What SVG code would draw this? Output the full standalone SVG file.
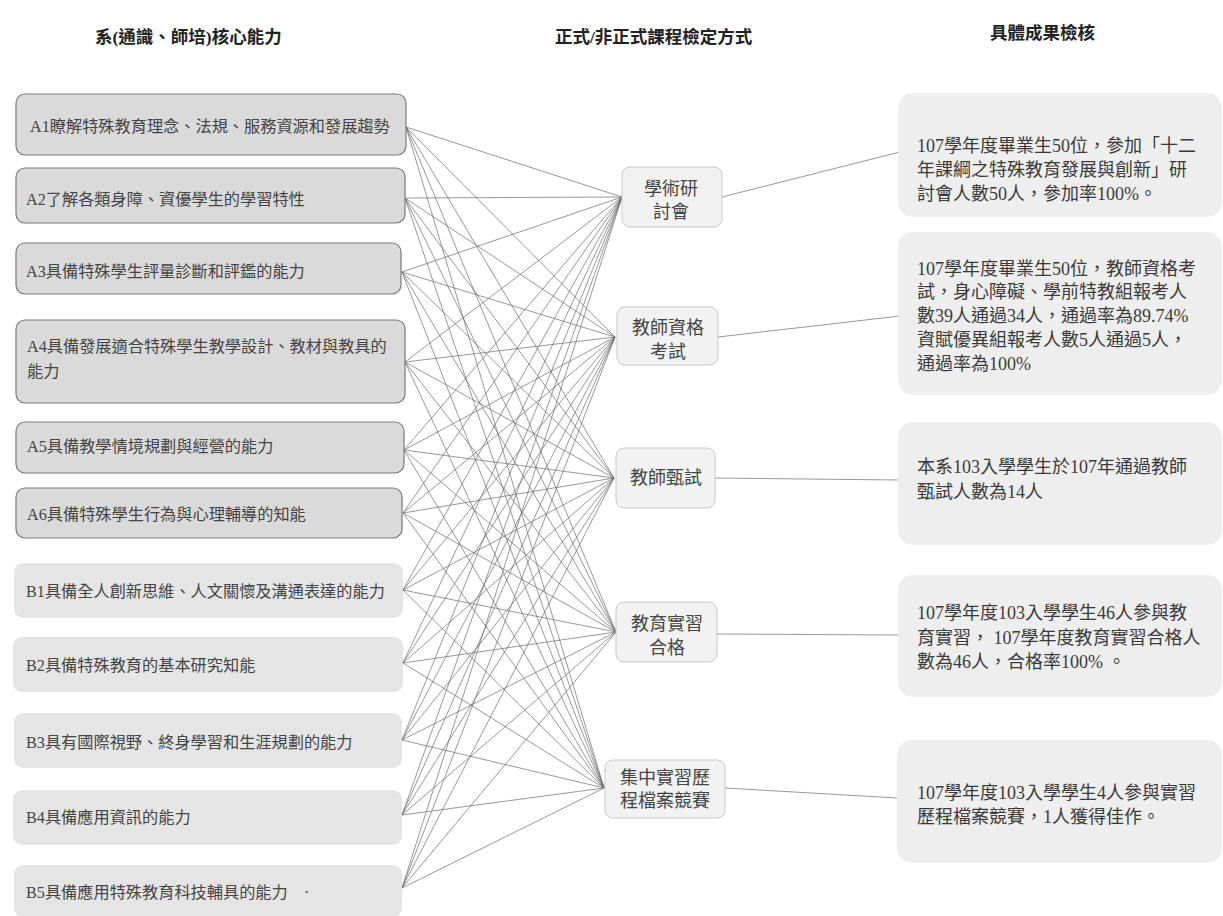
<svg xmlns="http://www.w3.org/2000/svg" width="1223" height="916" viewBox="0 0 1223 916">
<style>
text{font-family:"Liberation Serif","Noto Sans CJK TC",serif;fill:#3a3a3a;dominant-baseline:central}
.hdr{font-size:17.5px;font-weight:bold;fill:#222}
.lt{font-size:16.2px;fill:#444}
.mt{font-size:18px;text-anchor:middle;fill:#444}
.rt{font-size:18px;fill:#3a3a3a}
.boxA{fill:#dadada;stroke:#7a7a7a;stroke-width:1.2}
.boxB{fill:#e5e5e5;stroke:none}
.boxM{fill:#f2f2f2;stroke:#c9c9c9;stroke-width:1}
.boxR{fill:#eeeeee;stroke:none}
#connectors line{stroke:#666;stroke-width:0.8;stroke-opacity:0.85}
</style>
<rect width="1223" height="916" fill="#fff"/>
<g id="headers">
<text class="hdr" x="95" y="37">系(通識、師培)核心能力</text>
<text class="hdr" x="555" y="37">正式/非正式課程檢定方式</text>
<text class="hdr" x="990" y="33">具體成果檢核</text>
</g>
<g id="connectors">
<g id="fan">
<line x1="406" y1="127" x2="622" y2="197"/><line x1="406" y1="127" x2="615" y2="337"/><line x1="406" y1="127" x2="614" y2="478"/><line x1="406" y1="127" x2="616" y2="632"/><line x1="406" y1="127" x2="604" y2="788"/>
<line x1="405" y1="198" x2="622" y2="197"/><line x1="405" y1="198" x2="615" y2="337"/><line x1="405" y1="198" x2="614" y2="478"/><line x1="405" y1="198" x2="616" y2="632"/><line x1="405" y1="198" x2="604" y2="788"/>
<line x1="402" y1="272" x2="622" y2="197"/><line x1="402" y1="272" x2="615" y2="337"/><line x1="402" y1="272" x2="614" y2="478"/><line x1="402" y1="272" x2="616" y2="632"/><line x1="402" y1="272" x2="604" y2="788"/>
<line x1="405" y1="362" x2="622" y2="197"/><line x1="405" y1="362" x2="615" y2="337"/><line x1="405" y1="362" x2="614" y2="478"/><line x1="405" y1="362" x2="616" y2="632"/><line x1="405" y1="362" x2="604" y2="788"/>
<line x1="404" y1="450" x2="622" y2="197"/><line x1="404" y1="450" x2="615" y2="337"/><line x1="404" y1="450" x2="614" y2="478"/><line x1="404" y1="450" x2="616" y2="632"/><line x1="404" y1="450" x2="604" y2="788"/>
<line x1="403" y1="513" x2="622" y2="197"/><line x1="403" y1="513" x2="615" y2="337"/><line x1="403" y1="513" x2="614" y2="478"/><line x1="403" y1="513" x2="616" y2="632"/><line x1="403" y1="513" x2="604" y2="788"/>
<line x1="403" y1="590" x2="622" y2="197"/><line x1="403" y1="590" x2="615" y2="337"/><line x1="403" y1="590" x2="614" y2="478"/><line x1="403" y1="590" x2="616" y2="632"/><line x1="403" y1="590" x2="604" y2="788"/>
<line x1="403" y1="663" x2="622" y2="197"/><line x1="403" y1="663" x2="615" y2="337"/><line x1="403" y1="663" x2="614" y2="478"/><line x1="403" y1="663" x2="616" y2="632"/><line x1="403" y1="663" x2="604" y2="788"/>
<line x1="402" y1="740" x2="622" y2="197"/><line x1="402" y1="740" x2="615" y2="337"/><line x1="402" y1="740" x2="614" y2="478"/><line x1="402" y1="740" x2="616" y2="632"/><line x1="402" y1="740" x2="604" y2="788"/>
<line x1="402" y1="815" x2="622" y2="197"/><line x1="402" y1="815" x2="615" y2="337"/><line x1="402" y1="815" x2="614" y2="478"/><line x1="402" y1="815" x2="616" y2="632"/><line x1="402" y1="815" x2="604" y2="788"/>
<line x1="402" y1="888" x2="622" y2="197"/><line x1="402" y1="888" x2="615" y2="337"/><line x1="402" y1="888" x2="614" y2="478"/><line x1="402" y1="888" x2="616" y2="632"/><line x1="402" y1="888" x2="604" y2="788"/>
</g>
<line x1="722" y1="197" x2="900" y2="152"/>
<line x1="718" y1="337" x2="900" y2="316"/>
<line x1="715" y1="478" x2="898" y2="480"/>
<line x1="717" y1="634" x2="900" y2="635"/>
<line x1="725" y1="788" x2="897" y2="798"/>
</g>
<g id="A1"><rect class="boxA" x="16" y="94" width="390" height="61" rx="9"/><text class="lt" x="30" y="127">A1瞭解特殊教育理念、法規、服務資源和發展趨勢</text></g>
<g id="A2"><rect class="boxA" x="16" y="168" width="389" height="55" rx="9"/><text class="lt" x="26" y="200">A2了解各類身障、資優學生的學習特性</text></g>
<g id="A3"><rect class="boxA" x="16" y="243" width="385" height="51" rx="9"/><text class="lt" x="26" y="272">A3具備特殊學生評量診斷和評鑑的能力</text></g>
<g id="A4"><rect class="boxA" x="16" y="320" width="389" height="83" rx="9"/><text class="lt" x="27" y="347">A4具備發展適合特殊學生教學設計、教材與教具的</text><text class="lt" x="27" y="372">能力</text></g>
<g id="A5"><rect class="boxA" x="16" y="422" width="388" height="51" rx="9"/><text class="lt" x="27" y="447">A5具備教學情境規劃與經營的能力</text></g>
<g id="A6"><rect class="boxA" x="16" y="488" width="386" height="50" rx="9"/><text class="lt" x="27" y="515">A6具備特殊學生行為與心理輔導的知能</text></g>
<g id="B1"><rect class="boxB" x="14" y="563" width="389" height="55" rx="9"/><text class="lt" x="26" y="592">B1具備全人創新思維、人文關懷及溝通表達的能力</text></g>
<g id="B2"><rect class="boxB" x="13" y="637" width="390" height="55" rx="9"/><text class="lt" x="26" y="666">B2具備特殊教育的基本研究知能</text></g>
<g id="B3"><rect class="boxB" x="14" y="713" width="388" height="55" rx="9"/><text class="lt" x="26" y="743">B3具有國際視野、終身學習和生涯規劃的能力</text></g>
<g id="B4"><rect class="boxB" x="13" y="790" width="389" height="55" rx="9"/><text class="lt" x="26" y="818">B4具備應用資訊的能力</text></g>
<g id="B5"><rect class="boxB" x="14" y="865" width="388" height="52" rx="9"/><text class="lt" x="26" y="893">B5具備應用特殊教育科技輔具的能力　·</text></g>
<g id="M1"><rect class="boxM" x="622" y="167" width="100" height="60" rx="8"/><text class="mt" x="671" y="189">學術研</text><text class="mt" x="671" y="212">討會</text></g>
<g id="M2"><rect class="boxM" x="617" y="307" width="101" height="58" rx="8"/><text class="mt" x="668" y="328">教師資格</text><text class="mt" x="668" y="352">考試</text></g>
<g id="M3"><rect class="boxM" x="616" y="448" width="99" height="60" rx="8"/><text class="mt" x="666" y="478">教師甄試</text></g>
<g id="M4"><rect class="boxM" x="616" y="602" width="101" height="60" rx="8"/><text class="mt" x="667" y="624">教育實習</text><text class="mt" x="667" y="648">合格</text></g>
<g id="M5"><rect class="boxM" x="605" y="760" width="120" height="58" rx="8"/><text class="mt" x="665" y="778">集中實習歷</text><text class="mt" x="665" y="801">程檔案競賽</text></g>
<g id="R1"><rect class="boxR" x="898" y="93" width="324" height="124" rx="15"/><text class="rt" x="917" y="146">107學年度畢業生50位，參加「十二</text><text class="rt" x="917" y="170">年課綱之特殊教育發展與創新」研</text><text class="rt" x="917" y="194">討會人數50人，參加率100%。</text></g>
<g id="R2"><rect class="boxR" x="898" y="232" width="324" height="163" rx="15"/><text class="rt" x="917" y="269">107學年度畢業生50位，教師資格考</text><text class="rt" x="917" y="292">試，身心障礙、學前特教組報考人</text><text class="rt" x="917" y="316">數39人通過34人，通過率為89.74%</text><text class="rt" x="917" y="340">資賦優異組報考人數5人通過5人，</text><text class="rt" x="917" y="364">通過率為100%</text></g>
<g id="R3"><rect class="boxR" x="898" y="422" width="324" height="123" rx="15"/><text class="rt" x="917" y="467">本系103入學學生於107年通過教師</text><text class="rt" x="917" y="492">甄試人數為14人</text></g>
<g id="R4"><rect class="boxR" x="898" y="575" width="324" height="122" rx="15"/><text class="rt" x="917" y="613">107學年度103入學學生46人參與教</text><text class="rt" x="917" y="638">育實習， 107學年度教育實習合格人</text><text class="rt" x="917" y="662">數為46人，合格率100% 。</text></g>
<g id="R5"><rect class="boxR" x="897" y="740" width="325" height="123" rx="15"/><text class="rt" x="917" y="793">107學年度103入學學生4人參與實習</text><text class="rt" x="917" y="817">歷程檔案競賽，1人獲得佳作。</text></g>
</svg>
